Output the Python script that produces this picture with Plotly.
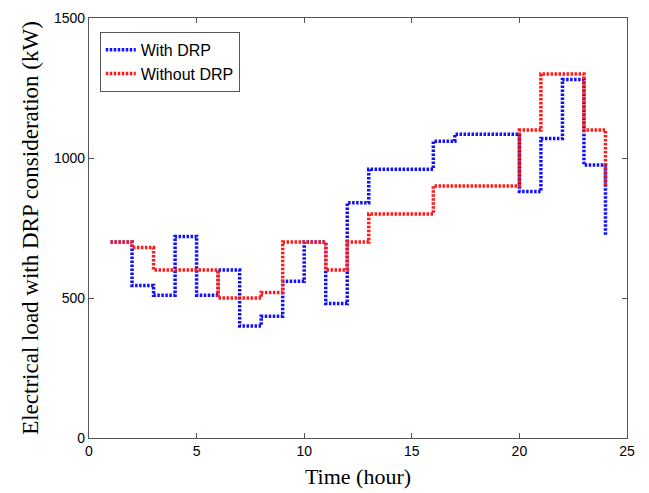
import plotly.graph_objects as go

hours = list(range(1, 25))
with_drp = [700, 545, 510, 720, 510, 600, 400, 435, 560, 700, 480, 840,
            960, 960, 960, 1060, 1085, 1085, 1085, 880, 1070, 1280, 975, 722]
without_drp = [700, 680, 600, 600, 600, 500, 500, 520, 700, 700, 600, 700,
               800, 800, 800, 900, 900, 900, 900, 1100, 1300, 1300, 1100, 900]

x_ticks = [0, 5, 10, 15, 20, 25]
y_ticks = [0, 500, 1000, 1500]

fig = go.Figure()
fig.add_trace(go.Scatter(x=hours, y=with_drp, mode="lines", name="With DRP",
                         line=dict(color="#1010ff", width=3.5, dash="2.5px,1.5px", shape="hv")))
fig.add_trace(go.Scatter(x=hours, y=without_drp, mode="lines", name="Without DRP",
                         line=dict(color="#ff1a1a", width=3.5, dash="2.5px,1.5px", shape="hv")))

axis_common = dict(showgrid=False, zeroline=False, showline=True, linecolor="#555",
                   linewidth=1.3, mirror="ticks", ticks="inside", ticklen=5, automargin=False,
                   tickcolor="#555", tickfont=dict(family="Liberation Sans, Arial", size=14, color="black"))

fig.update_xaxes(range=[0, 25], tickvals=x_ticks, ticktext=[str(v) for v in x_ticks],
                 title=dict(text="Time (hour)", font=dict(family="Liberation Serif, Times New Roman", size=22, color="black"), standoff=10),
                 **axis_common)
fig.update_yaxes(range=[0, 1500], tickvals=y_ticks, ticktext=[str(v) for v in y_ticks],
                 title=dict(text="Electrical load with DRP consideration (kW)", font=dict(family="Liberation Serif, Times New Roman", size=23, color="black"), standoff=8),
                 **axis_common)

fig.update_layout(
    width=649, height=493,
    margin=dict(l=89, r=22, t=18, b=55),
    plot_bgcolor="white", paper_bgcolor="white",
    legend=dict(x=0.02, y=0.967, xanchor="left", yanchor="top",
                bordercolor="#555", borderwidth=1, bgcolor="white",
                font=dict(family="Liberation Sans, Arial", size=16, color="black"),
                tracegroupgap=0),
    showlegend=True,
)

fig.write_html("out.html")
